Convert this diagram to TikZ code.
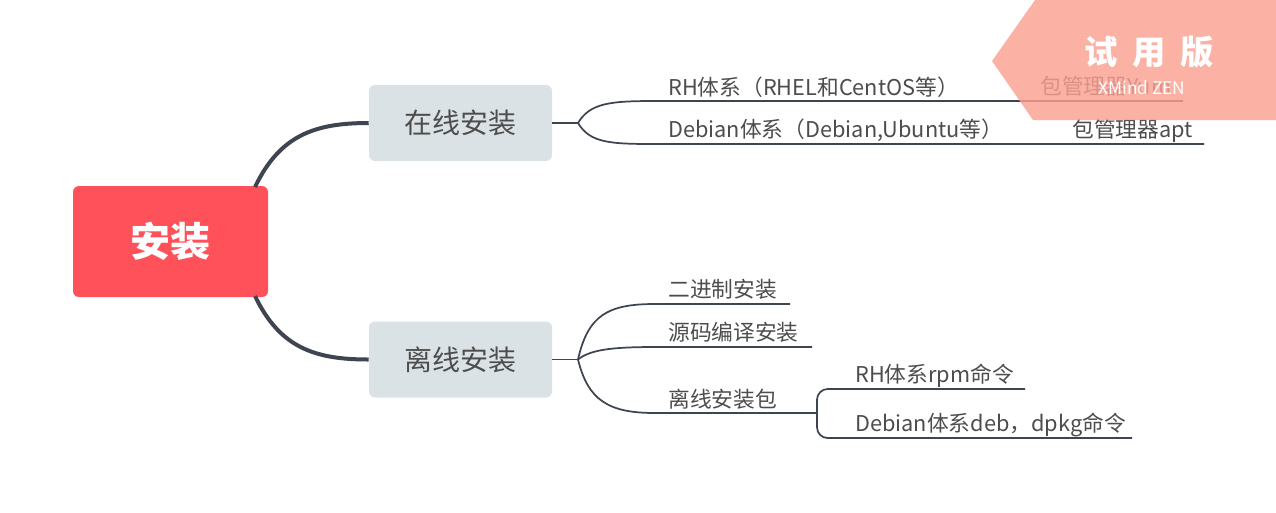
\documentclass[tikz,border=0pt]{standalone}
\usepackage{fontspec}
\setmainfont{Noto Sans CJK SC}
\usetikzlibrary{calc}
\definecolor{rootred}{HTML}{FF5159}
\definecolor{subbg}{HTML}{DAE2E5}
\definecolor{linec}{HTML}{3E4550}
\definecolor{txt}{HTML}{4D4D4D}
\definecolor{wm}{HTML}{FCA092}
\begin{document}
\begin{tikzpicture}[x=0.75pt,y=-0.75pt,
  rootbox/.style={fill=rootred,rounded corners=4.5pt,minimum width=146.25pt,minimum height=83.25pt,text=white,font=\fontsize{30}{33}\selectfont\bfseries,inner sep=0pt},
  subbox/.style={fill=subbg,rounded corners=4.5pt,minimum width=137.25pt,minimum height=57pt,text=txt,font=\fontsize{21}{24}\selectfont,inner sep=0pt},
  leaf/.style={anchor=base west,text=txt,font=\fontsize{16.3}{19}\selectfont,inner sep=0pt},
  thick link/.style={draw=linec,line width=3pt},
  thin link/.style={draw=linec,line width=1.3pt},
]
\useasboundingbox (0,0) rectangle (1276,512);
\fill[white] (0,0) rectangle (1276,512);

% main nodes
\node[rootbox] (root) at (170.5,241.5) {安装};
\node[subbox] (online) at (460.5,123) {在线安装};
\node[subbox] (offline) at (460.5,359.5) {离线安装};

% root connectors
\coordinate (r1) at (255,187);
\coordinate (r2) at (255,296);
\draw[thick link] (r1) .. controls (280,135) and (315,123) .. (online.west);
\draw[thick link] (r2) .. controls (280,348) and (315,359.5) .. (offline.west);

% online branch
\coordinate (oj) at (578,123);
\draw[thin link] (online.east) -- (oj);
\node[leaf] (rh) at (668,95) {RH体系（RHEL和CentOS等）};
\node[leaf] (deb) at (668,137) {Debian体系（Debian,Ubuntu等）};
\node[leaf] (yum) at (1040,94) {包管理器Yum};
\node[leaf] (apt) at (1072,137) {包管理器apt};
\coordinate (rhs) at (655,101);
\coordinate (rhe) at (1183,101);
\coordinate (debs) at (655,144);
\coordinate (debe) at (1204,144);
\draw[thin link] (oj) .. controls (590,103) and (610,101) .. (rhs) -- (rhe);
\draw[thin link] (oj) .. controls (590,143) and (610,144) .. (debs) -- (debe);

% offline branch
\coordinate (fj) at (578,359.5);
\draw[thin link] (offline.east) -- (fj);
\node[leaf] (bin) at (668,297) {二进制安装};
\node[leaf] (src) at (668,340) {源码编译安装};
\node[leaf] (pkg) at (668,407) {离线安装包};
\coordinate (bins) at (655,304);
\coordinate (bine) at (790,304);
\coordinate (srcs) at (655,347);
\coordinate (srce) at (812,347);
\coordinate (pkgs) at (655,413);
\coordinate (pkge) at (817,413);
\draw[thin link] (fj) .. controls (588,315) and (608,304) .. (bins) -- (bine);
\draw[thin link] (fj) .. controls (590,350) and (610,347) .. (srcs) -- (srce);
\draw[thin link] (fj) .. controls (588,400) and (608,413) .. (pkgs) -- (pkge);

% package sub-branch
\node[leaf] (rpm) at (855,382) {RH体系rpm命令};
\node[leaf] (dpkg) at (855,431) {Debian体系deb，dpkg命令};
\coordinate (rpme) at (1025,389);
\coordinate (dpkge) at (1132,438);
\draw[thin link,rounded corners=8pt] (rpme) -- (817,389) -- (817,438) -- (dpkge);

% watermark
\fill[wm,opacity=0.82] (992,61) -- (1035,0) -- (1276,0) -- (1276,120) -- (1033,120) -- cycle;
\node[text=white,font=\fontsize{25}{28}\selectfont\bfseries,anchor=center] (wmt) at (1149,52) {试\hspace{0.45em}用\hspace{0.45em}版};
\node[text=white,font=\fontsize{13}{15}\selectfont,anchor=base west,inner sep=0pt] (wmx) at (1098,94) {XMind ZEN};
\end{tikzpicture}
\end{document}
